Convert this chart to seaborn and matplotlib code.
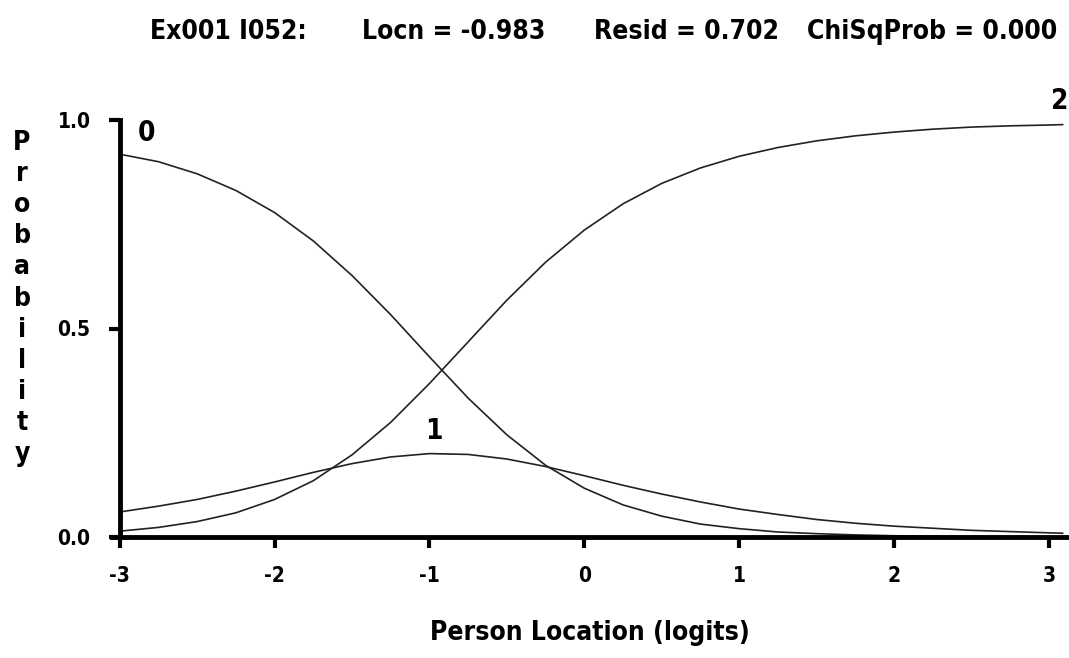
import matplotlib
matplotlib.use("Agg")
import matplotlib.pyplot as plt
import seaborn as sns
import pandas as pd

# ---- data ----
person_location = [-3.0, -2.75, -2.5, -2.25, -2.0, -1.75, -1.5, -1.25, -1.0, -0.75,
                   -0.5, -0.25, 0.0, 0.25, 0.5, 0.75, 1.0, 1.25, 1.5, 1.75,
                   2.0, 2.25, 2.5, 2.75, 3.0, 3.09]
prob_cat0 = [0.918, 0.900, 0.871, 0.831, 0.778, 0.710, 0.627, 0.533, 0.432, 0.333,
             0.245, 0.172, 0.117, 0.077, 0.050, 0.031, 0.020, 0.012, 0.008, 0.005,
             0.003, 0.002, 0.001, 0.001, 0.000, 0.000]
prob_cat1 = [0.060, 0.074, 0.090, 0.110, 0.132, 0.155, 0.176, 0.192, 0.200, 0.198,
             0.187, 0.169, 0.147, 0.124, 0.103, 0.084, 0.067, 0.054, 0.042, 0.033,
             0.026, 0.021, 0.016, 0.013, 0.010, 0.009]
prob_cat2 = [0.014, 0.023, 0.037, 0.058, 0.090, 0.135, 0.197, 0.275, 0.368, 0.468,
             0.568, 0.659, 0.736, 0.799, 0.848, 0.885, 0.913, 0.934, 0.950, 0.962,
             0.971, 0.978, 0.983, 0.986, 0.988, 0.989]
categories = ["0", "1", "2"]
category_label_pos = [(-2.83, 0.97), (-0.97, 0.255), (3.07, 1.045)]
x_ticks = [-3, -2, -1, 0, 1, 2, 3]
y_ticks = [0.0, 0.5, 1.0]
y_tick_labels = ["0.0", "0.5", "1.0"]
title_parts = ["Ex001 I052:", "Locn = -0.983", "Resid = 0.702", "ChiSqProb = 0.000"]
x_label = "Person Location (logits)"
y_label = "Probability"

df = pd.DataFrame({
    "x": person_location * 3,
    "p": prob_cat0 + prob_cat1 + prob_cat2,
    "cat": [c for c in categories for _ in person_location],
})

sns.set_theme(style="white")
plt.rcParams["font.family"] = ["DejaVu Sans"]
plt.rcParams["font.stretch"] = "condensed"
plt.rcParams["text.color"] = "black"

W, H = 1069, 658
fig = plt.figure(figsize=(W / 100, H / 100), dpi=100)
ax = fig.add_axes([112 / W, 1 - 537 / H, (W - 112) / W, (537 - 120) / H])

sns.lineplot(data=df, x="x", y="p", hue="cat", palette=["#222222"] * 3,
             legend=False, ax=ax, linewidth=1.2, estimator=None, sort=True)

ax.set_xlim(-3.05, 3.13)
ax.set_ylim(0, 1.0)
for s in ["top", "right"]:
    ax.spines[s].set_visible(False)
ax.spines["left"].set_position(("data", -3))
for s in ["left", "bottom"]:
    ax.spines[s].set_linewidth(3.5)
    ax.spines[s].set_color("black")
    ax.spines[s].set_capstyle("projecting")

ax.set_xticks(x_ticks)
ax.set_xticklabels([str(t) for t in x_ticks])
ax.set_yticks(y_ticks)
ax.set_yticklabels(y_tick_labels)
ax.tick_params(axis="both", direction="out", length=8, width=3, color="black",
               labelsize=15, labelcolor="black", bottom=True, left=True)
ax.tick_params(axis="x", pad=13)
ax.tick_params(axis="y", pad=13)
for lab in ax.get_xticklabels() + ax.get_yticklabels():
    lab.set_fontweight("bold")
    lab.set_fontstretch("condensed")
ax.set_xlabel("")
ax.set_ylabel("")
ax.grid(False)

for (cx, cy), c in zip(category_label_pos, categories):
    ax.text(cx, cy, c, fontsize=20, fontweight="bold", ha="center", va="center",
            color="black", clip_on=False, fontstretch="condensed")

# title segments (centres)
title_x_center = [228, 454, 687, 932]
for tx, t in zip(title_x_center, title_parts):
    fig.text(tx / W, 1 - 32 / H, t, fontsize=19, ha="center", va="center",
             color="black", fontweight="bold", fontstretch="condensed")

# x label
fig.text(590 / W, 1 - 633 / H, x_label, fontsize=19, fontweight="bold",
         ha="center", va="center", color="black")

# stacked y label
for i, ch in enumerate(y_label):
    fig.text(22 / W, 1 - (143 + i * 31.1) / H, ch, fontsize=19, fontweight="bold",
             ha="center", va="center", color="black", fontstretch="condensed")

fig.savefig("out.png", dpi=100, facecolor="white")
